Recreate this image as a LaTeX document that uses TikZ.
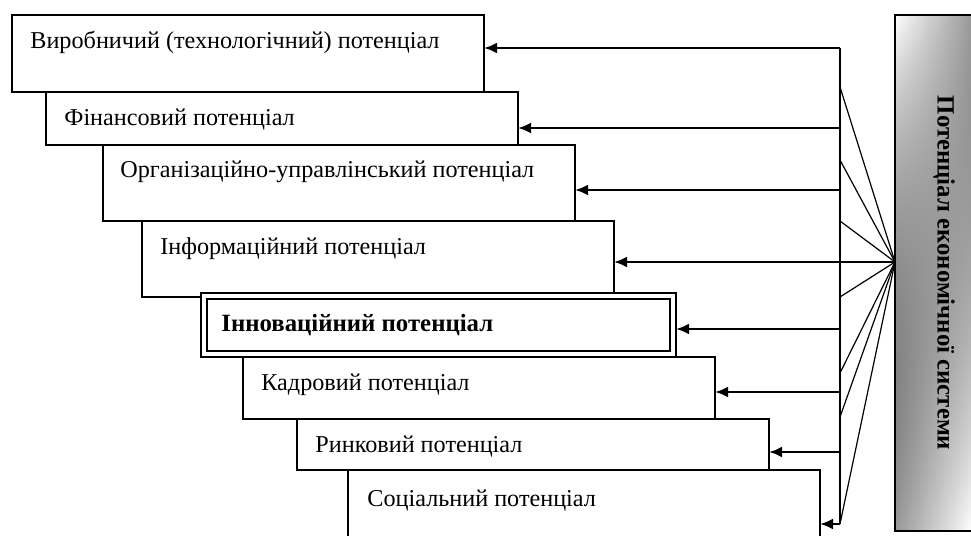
\documentclass[tikz,border=0pt]{standalone}
\usepackage{fontspec}
\setmainfont{Liberation Serif}
\usetikzlibrary{arrows.meta,fadings}
\tikzset{>={Latex[length=6.5pt,width=5.5pt]}}
\tikzfading[name=lowfade,top color=transparent!100,middle color=transparent!85,bottom color=transparent!0]
\tikzset{
    pbox/.style={draw,line width=0.8pt,fill=white,inner sep=0pt,outer sep=0pt,anchor=north west,minimum width=236pt},
    plab/.style={anchor=base west,inner sep=0pt,font=\fontsize{12.1}{14}\selectfont},
    sysbox/.style={draw,line width=0.8pt,left color=white,right color=black!40,inner sep=0pt,outer sep=0pt,anchor=north west},
    feed/.style={->,line width=1.25pt},
    ray/.style={line width=0.6pt}
}

\begin{document}
\begin{tikzpicture}[x=0.5pt,y=-0.5pt]
            \clip (0,0) rectangle (971,536);
            \node[pbox,minimum height=38.5pt] (p1) at (12,15) {};
            \node[plab] (t1) at ([shift={(18,33)}]p1.north west) {Виробничий (технологічний) потенціал};
            \node[pbox,minimum height=26.5pt] (p2) at (46,92) {};
            \node[plab] (t2) at ([shift={(18,33)}]p2.north west) {Фінансовий потенціал};
            \node[pbox,minimum height=38pt] (p3) at (103,145) {};
            \node[plab] (t3) at ([shift={(17,32)}]p3.north west) {Організаційно-управлінський потенціал};
            \node[pbox,minimum height=38pt] (p4) at (142,221) {};
            \node[plab] (t4) at ([shift={(18,33)}]p4.north west) {Інформаційний потенціал};
            \node[pbox,minimum width=237.5pt,minimum height=32pt,line width=1.3pt] (p5) at (201,293) {};
            \draw[line width=0.6pt] ([shift={(6,6)}]p5.north west) rectangle ([shift={(-6,-6)}]p5.south east);
            \node[plab,font=\fontsize{12.4}{14}\selectfont\bfseries] (t5) at ([shift={(20,38)}]p5.north west) {Інноваційний потенціал};
            \node[pbox,minimum height=31pt] (p6) at (243,357) {};
            \node[plab] (t6) at ([shift={(18,33)}]p6.north west) {Кадровий потенціал};
            \node[pbox,minimum height=25.5pt] (p7) at (297,419) {};
            \node[plab] (t7) at ([shift={(18,33)}]p7.north west) {Ринковий потенціал};
            \node[pbox,minimum height=40pt] (p8) at (348,470) {};
            \node[plab] (t8) at ([shift={(19,36)}]p8.north west) {Соціальний потенціал};
            \node[sysbox,minimum width=38.5pt,minimum height=258pt] (sys) at (895,15) {};
            \fill[left color=black!40,right color=white,path fading=lowfade] (sys.north west) rectangle (sys.south east);
            \draw[line width=0.8pt] (sys.north west) rectangle (sys.south east);
            \node[font=\fontsize{12.4}{14}\selectfont\bfseries,rotate=-90,inner sep=0pt] (syslab) at (944,273) {Потенціал економічної системи};
            \coordinate (hub) at (895,262);
            \coordinate (b1) at (840,48);
            \coordinate (b2) at (840,128);
            \coordinate (b3) at (840,190);
            \coordinate (b4) at (hub);
            \coordinate (b5) at (840,329);
            \coordinate (b6) at (840,392);
            \coordinate (b7) at (840,452);
            \coordinate (b8) at (840,524);
            \coordinate (f1) at (840,87);
            \coordinate (f2) at (840,160);
            \coordinate (f3) at (840,221);
            \coordinate (f4) at (840,297);
            \coordinate (f5) at (840,373);
            \coordinate (f6) at (840,417);
            \coordinate (f7) at (b8);
            \draw[line width=0.8pt] (b1) -- (b8);
            \foreach \i in {1,...,7}
                \draw[ray] (hub) -- (f\i);
            \foreach \i in {1,...,8}
                \draw[feed] (b\i) -- (b\i -| p\i.east);
        \end{tikzpicture}
\end{document}
